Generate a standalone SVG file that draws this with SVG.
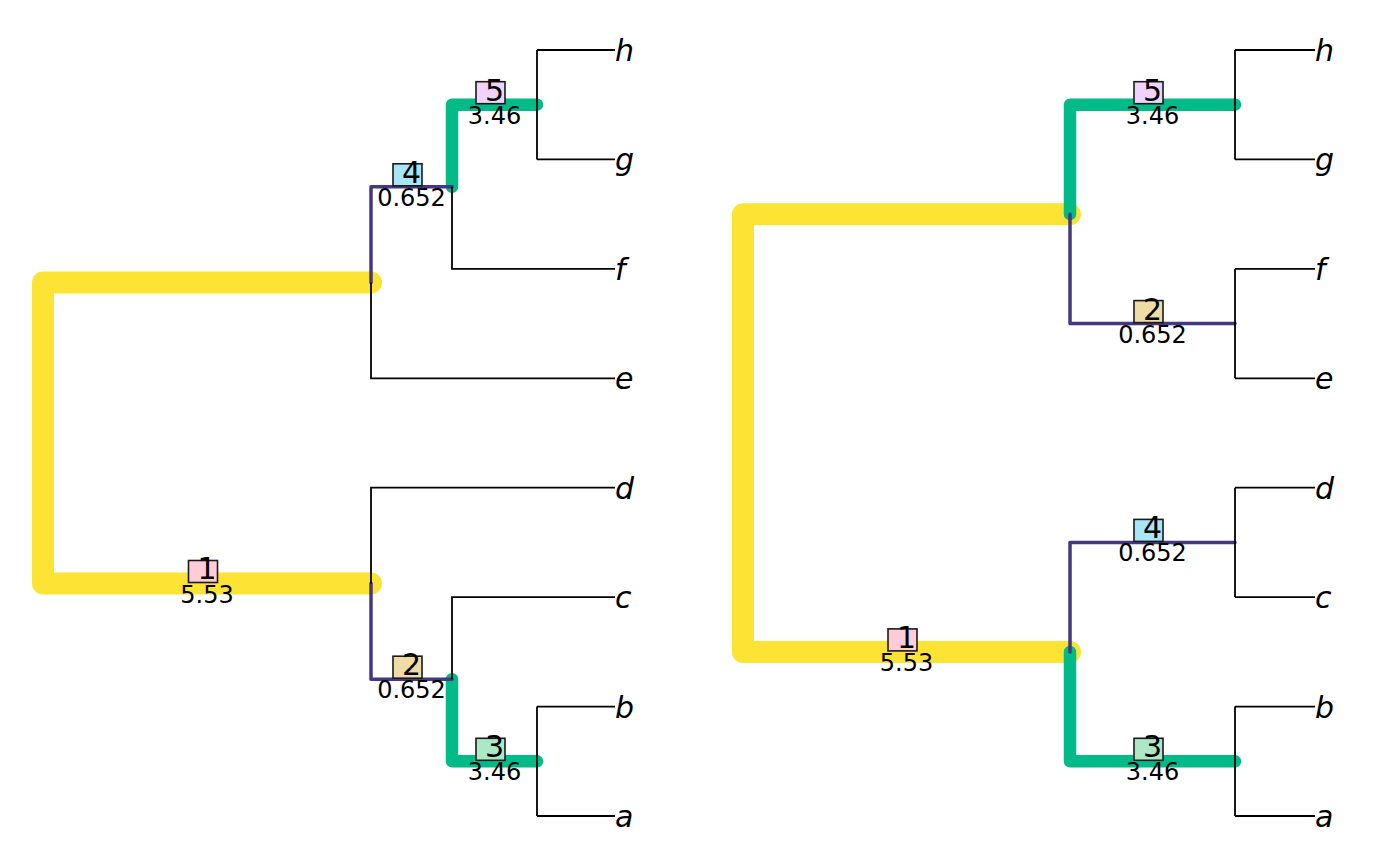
<svg xmlns="http://www.w3.org/2000/svg" width="1400" height="866" viewBox="0 0 1400 866">
<style>
text{font-family:"DejaVu Sans","Liberation Sans",sans-serif;fill:#000}
.tip{font-size:30px;font-style:italic}
.num{font-size:30px;text-anchor:middle}
.val{font-size:24px;text-anchor:middle}
.box{stroke:#1a1a1a;stroke-width:1.6}
.e{fill:none;stroke-linejoin:round;stroke-linecap:round}
.y{stroke:#FDE333;stroke-width:22}
.g{stroke:#00BA87;stroke-width:12.5}
.p{stroke:#453781;stroke-width:3.5}
.k{fill:none;stroke:#000;stroke-width:1.8}
</style>
<rect width="1400" height="866" fill="#fff"/>
<g id="connectors">
<path class="e y" d="M371 282.5H43V583.5H371"/>
<path class="e g" d="M452 186.8V104.7H537"/>
<path class="e g" d="M452 679.2V761.3H537"/>
<path class="e p" d="M371 282.5V186.8H452"/>
<path class="e p" d="M371 583.5V679.2H452"/>
<path class="k" d="M537 50V159.4M537 50H615M537 159.4H615M452 186.8V268.9H615M371 282.5V378.3H615M371 583.5V487.7H615M452 679.2V597.1H615M537 706.6V816M537 706.6H615M537 816H615"/>
<path class="e y" d="M1070 214.2H743V651.9H1070"/>
<path class="e g" d="M1070 214.2V104.7H1235"/>
<path class="e g" d="M1070 651.9V761.3H1235"/>
<path class="e p" d="M1070 214.2V323.6H1235"/>
<path class="e p" d="M1070 651.9V542.4H1235"/>
<path class="k" d="M1235 50V159.4M1235 50H1315M1235 159.4H1315M1235 268.9V378.3M1235 268.9H1315M1235 378.3H1315M1235 487.7V597.1M1235 487.7H1315M1235 597.1H1315M1235 706.6V816M1235 706.6H1315M1235 816H1315"/>
</g>
<g id="left-labels">
<g id="L1"><rect class="box" x="188.5" y="560.5" width="29" height="22" fill="#FFCCD8"/><text class="num" x="207" y="579">1</text><text class="val" x="207" y="602.5">5.53</text></g>
<g id="L4"><rect class="box" x="393" y="163.8" width="29" height="22" fill="#A6E6F8"/><text class="num" x="411.5" y="182.5">4</text><text class="val" x="411.5" y="205.8">0.652</text></g>
<g id="L5"><rect class="box" x="476" y="81.7" width="29" height="22" fill="#F0D3FA"/><text class="num" x="494.5" y="100.5">5</text><text class="val" x="494.5" y="123.7">3.46</text></g>
<g id="L2"><rect class="box" x="393" y="656.2" width="29" height="22" fill="#EEDBA5"/><text class="num" x="411.5" y="675">2</text><text class="val" x="411.5" y="698.2">0.652</text></g>
<g id="L3"><rect class="box" x="476" y="738.3" width="29" height="22" fill="#ADE8C5"/><text class="num" x="494.5" y="757">3</text><text class="val" x="494.5" y="780.3">3.46</text></g>
</g>
<g id="right-labels">
<g id="R1"><rect class="box" x="888" y="628.9" width="29" height="22" fill="#FFCCD8"/><text class="num" x="906.5" y="647.5">1</text><text class="val" x="906.5" y="670.9">5.53</text></g>
<g id="R5"><rect class="box" x="1134" y="81.7" width="29" height="22" fill="#F0D3FA"/><text class="num" x="1152.5" y="100.5">5</text><text class="val" x="1152.5" y="123.7">3.46</text></g>
<g id="R2"><rect class="box" x="1134" y="300.6" width="29" height="22" fill="#EEDBA5"/><text class="num" x="1152.5" y="319.5">2</text><text class="val" x="1152.5" y="342.6">0.652</text></g>
<g id="R4"><rect class="box" x="1134" y="519.4" width="29" height="22" fill="#A6E6F8"/><text class="num" x="1152.5" y="538">4</text><text class="val" x="1152.5" y="561.4">0.652</text></g>
<g id="R3"><rect class="box" x="1134" y="738.3" width="29" height="22" fill="#ADE8C5"/><text class="num" x="1152.5" y="757">3</text><text class="val" x="1152.5" y="780.3">3.46</text></g>
</g>
<g id="left-tips">
<text id="Lh" class="tip" x="615" y="61">h</text>
<text id="Lg" class="tip" x="615" y="170">g</text>
<text id="Lf" class="tip" x="615" y="280">f</text>
<text id="Le" class="tip" x="615" y="389">e</text>
<text id="Ld" class="tip" x="615" y="499">d</text>
<text id="Lc" class="tip" x="615" y="608">c</text>
<text id="Lb" class="tip" x="615" y="718">b</text>
<text id="La" class="tip" x="615" y="827">a</text>
</g>
<g id="right-tips">
<text id="Rh" class="tip" x="1315" y="61">h</text>
<text id="Rg" class="tip" x="1315" y="170">g</text>
<text id="Rf" class="tip" x="1315" y="280">f</text>
<text id="Re" class="tip" x="1315" y="389">e</text>
<text id="Rd" class="tip" x="1315" y="499">d</text>
<text id="Rc" class="tip" x="1315" y="608">c</text>
<text id="Rb" class="tip" x="1315" y="718">b</text>
<text id="Ra" class="tip" x="1315" y="827">a</text>
</g>
</svg>
